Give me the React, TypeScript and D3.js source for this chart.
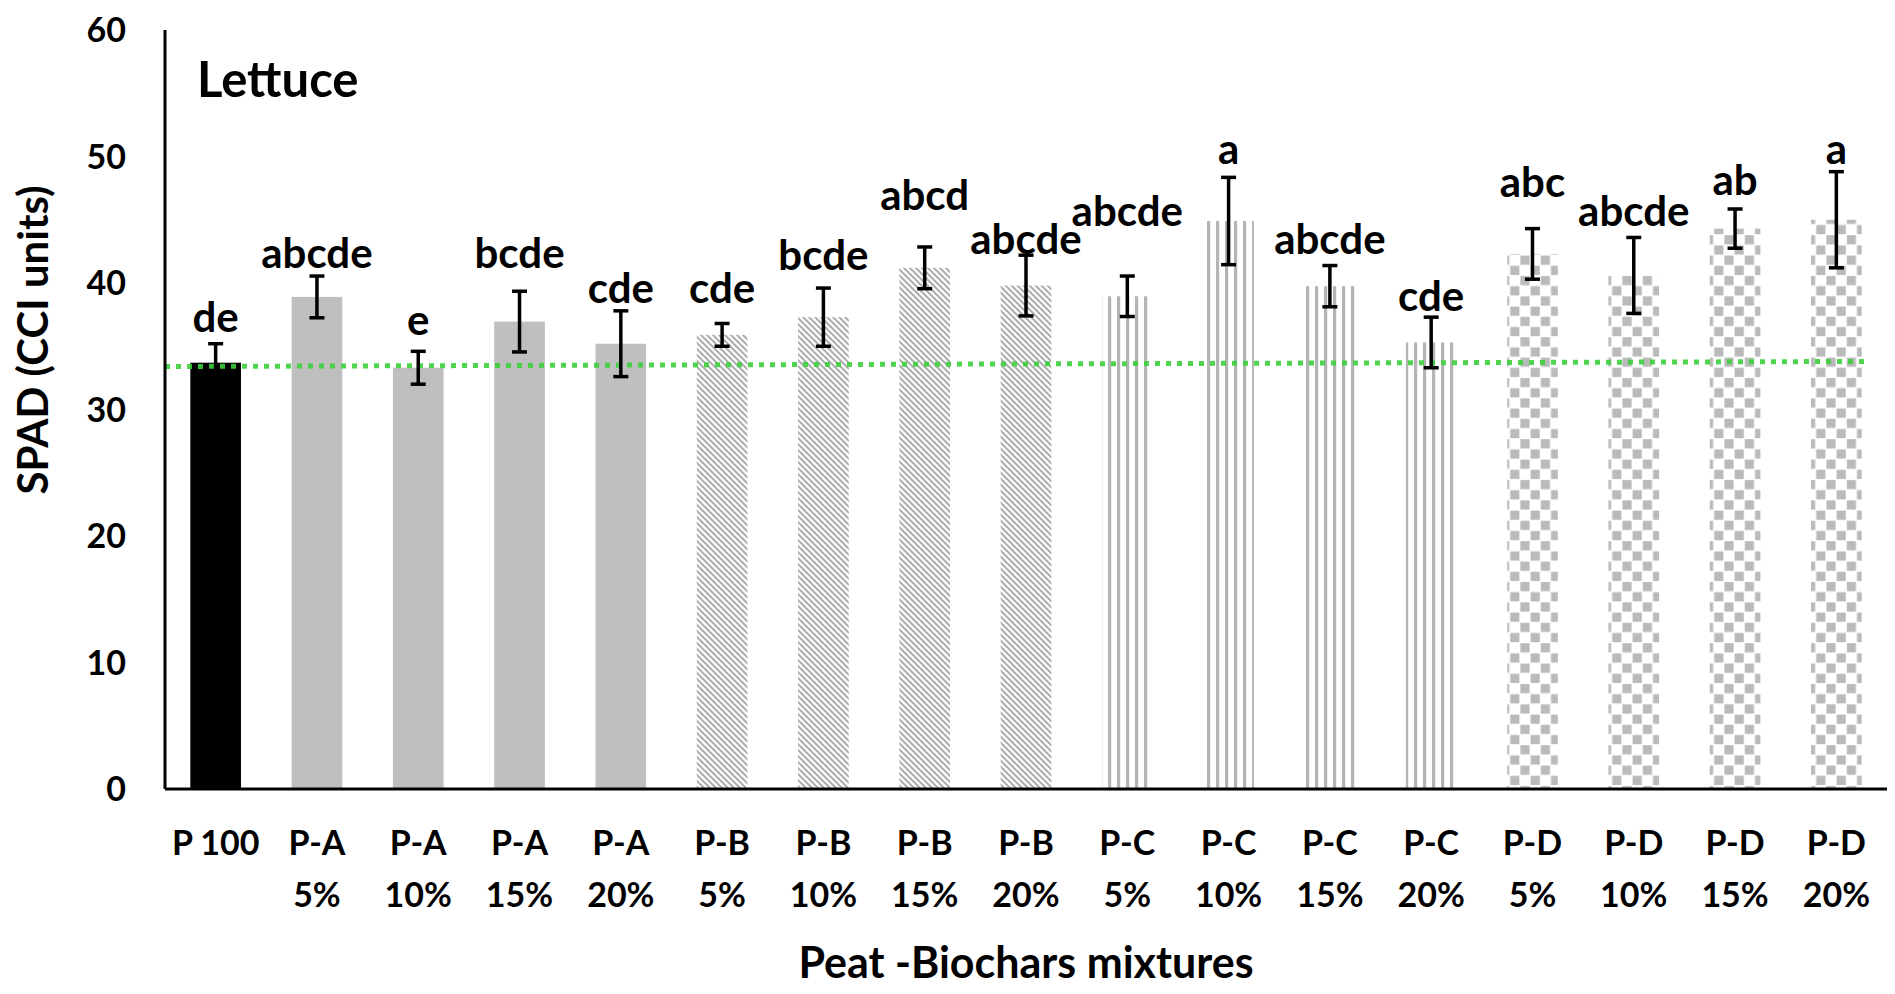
import React from "react";
import * as d3 from "d3";

// treatments, two-line tick labels
const line1 = ["P 100", "P-A", "P-A", "P-A", "P-A", "P-B", "P-B", "P-B", "P-B", "P-C", "P-C", "P-C", "P-C", "P-D", "P-D", "P-D", "P-D"];
const line2 = ["", "5%", "10%", "15%", "20%", "5%", "10%", "15%", "20%", "5%", "10%", "15%", "20%", "5%", "10%", "15%", "20%"];
const groups = ["P", "A", "A", "A", "A", "B", "B", "B", "B", "C", "C", "C", "C", "D", "D", "D", "D"];

// SPAD means and error (±)
const spad = [33.7, 38.9, 33.3, 36.95, 35.2, 35.9, 37.3, 41.2, 39.8, 38.95, 44.9, 39.75, 35.3, 42.3, 40.6, 44.3, 45.0];
const spadErr = [1.5, 1.65, 1.3, 2.4, 2.6, 0.9, 2.3, 1.65, 2.4, 1.6, 3.45, 1.63, 2.0, 2.0, 3.0, 1.55, 3.8];

// significance letters and where they sit (in SPAD units, text baseline)
const letters = ["de", "abcde", "e", "bcde", "cde", "cde", "bcde", "abcd", "abcde", "abcde", "a", "abcde", "cde", "abc", "abcde", "ab", "a"];
const letterAt = [36.1, 41.2, 35.9, 41.2, 38.4, 38.4, 41.0, 45.8, 42.3, 44.5, 49.4, 42.3, 37.8, 46.8, 44.5, 46.95, 49.4];

// control reference line (start, end)
const controlLine = [33.4, 33.8];

const yTicks = [0, 10, 20, 30, 40, 50, 60];

const W = 1895;
const H = 994;
const left = 165;
const right = 1887;
const top = 30;
const bottom = 789;
const FONT = "Lato, 'Open Sans', sans-serif";

const fills: Record<string, string> = {
  P: "#000000",
  A: "#bfbfbf",
  B: "url(#diag)",
  C: "url(#vert)",
  D: "url(#check)",
};

export default function App() {
  const idx = d3.range(spad.length).map(String);
  const x = d3.scaleBand<string>().domain(idx).range([left, right]).paddingInner(0.5).paddingOuter(0.25);
  const y = d3.scaleLinear().domain([0, 60]).range([bottom, top]);
  const bw = x.bandwidth();

  const refLine = d3
    .line<number>()
    .x((_, i) => (i === 0 ? left : (x(String(spad.length - 1)) as number) + bw + 4))
    .y((d) => y(d));

  return (
    <svg width={W} height={H} style={{ position: "absolute", left: 0, top: 0, background: "#fff" }} fontFamily={FONT}>
      <defs>
        <pattern id="diag" patternUnits="userSpaceOnUse" width="6" height="6">
          <rect width="6" height="6" fill="#ffffff" />
          <path d="M-1,-1 L7,7 M-4,2 L2,8 M2,-4 L8,2" stroke="#adadad" strokeWidth="2" />
        </pattern>
        <pattern id="vert" patternUnits="userSpaceOnUse" width="9" height="10">
          <rect width="9" height="10" fill="#ffffff" />
          <rect x="1" width="3.2" height="10" fill="#b4b4b4" />
        </pattern>
        <pattern id="check" patternUnits="userSpaceOnUse" width="20.4" height="20.4">
          <rect width="20.4" height="20.4" fill="#ffffff" />
          <rect x="0.6" y="0.6" width="9.2" height="9.2" fill="#bababa" />
          <rect x="10.8" y="10.8" width="9.2" height="9.2" fill="#bababa" />
        </pattern>
      </defs>

      {/* bars */}
      {spad.map((v, i) => (
        <rect
          key={"b" + i}
          x={x(String(i))}
          y={y(v)}
          width={bw}
          height={y(0) - y(v)}
          fill={fills[groups[i]]}
        />
      ))}

      {/* control reference */}
      <path
        d={refLine(controlLine) || ""}
        fill="none"
        stroke="#3ccf3c"
        strokeWidth={5}
        strokeDasharray="5 6"
        opacity={0.9}
      />

      {/* error bars */}
      {spad.map((v, i) => {
        const cx = (x(String(i)) as number) + bw / 2;
        const y1 = y(v + spadErr[i]);
        const y2 = y(v - spadErr[i]);
        return (
          <g key={"e" + i} stroke="#000" strokeWidth={3.5}>
            <line x1={cx} x2={cx} y1={y1} y2={y2} />
            <line x1={cx - 7.5} x2={cx + 7.5} y1={y1} y2={y1} />
            <line x1={cx - 7.5} x2={cx + 7.5} y1={y2} y2={y2} />
          </g>
        );
      })}

      {/* letters */}
      {letters.map((t, i) => (
        <text
          key={"l" + i}
          x={(x(String(i)) as number) + bw / 2}
          y={y(letterAt[i])}
          textAnchor="middle"
          fontSize={42}
          fontWeight={700}
          fill="#000"
        >
          {t}
        </text>
      ))}

      {/* axes */}
      <line x1={left} x2={left} y1={top} y2={bottom} stroke="#000" strokeWidth={3} />
      <line x1={left} x2={right} y1={bottom} y2={bottom} stroke="#000" strokeWidth={3} />

      {yTicks.map((t) => (
        <text
          key={"t" + t}
          x={left - 39}
          y={y(t)}
          dy="0.36em"
          textAnchor="end"
          fontSize={34}
          fontWeight={700}
          fill="#000"
        >
          {t}
        </text>
      ))}

      {line1.map((t, i) => {
        const cx = (x(String(i)) as number) + bw / 2;
        return (
          <g key={"c" + i} fontSize={34} fontWeight={700} fill="#000" textAnchor="middle">
            <text x={cx} y={843} dy="0.36em">{t}</text>
            {line2[i] && <text x={cx} y={895} dy="0.36em">{line2[i]}</text>}
          </g>
        );
      })}

      <text x={(left + right) / 2} y={963} dy="0.36em" textAnchor="middle" fontSize={43} fontWeight={700}>
        Peat -Biochars mixtures
      </text>
      <text
        transform={`translate(33,340) rotate(-90)`}
        dy="0.36em"
        textAnchor="middle"
        fontSize={42}
        fontWeight={700}
      >
        SPAD (CCI units)
      </text>
      <text x={197} y={97} fontSize={49} fontWeight={700}>
        Lettuce
      </text>
    </svg>
  );
}
